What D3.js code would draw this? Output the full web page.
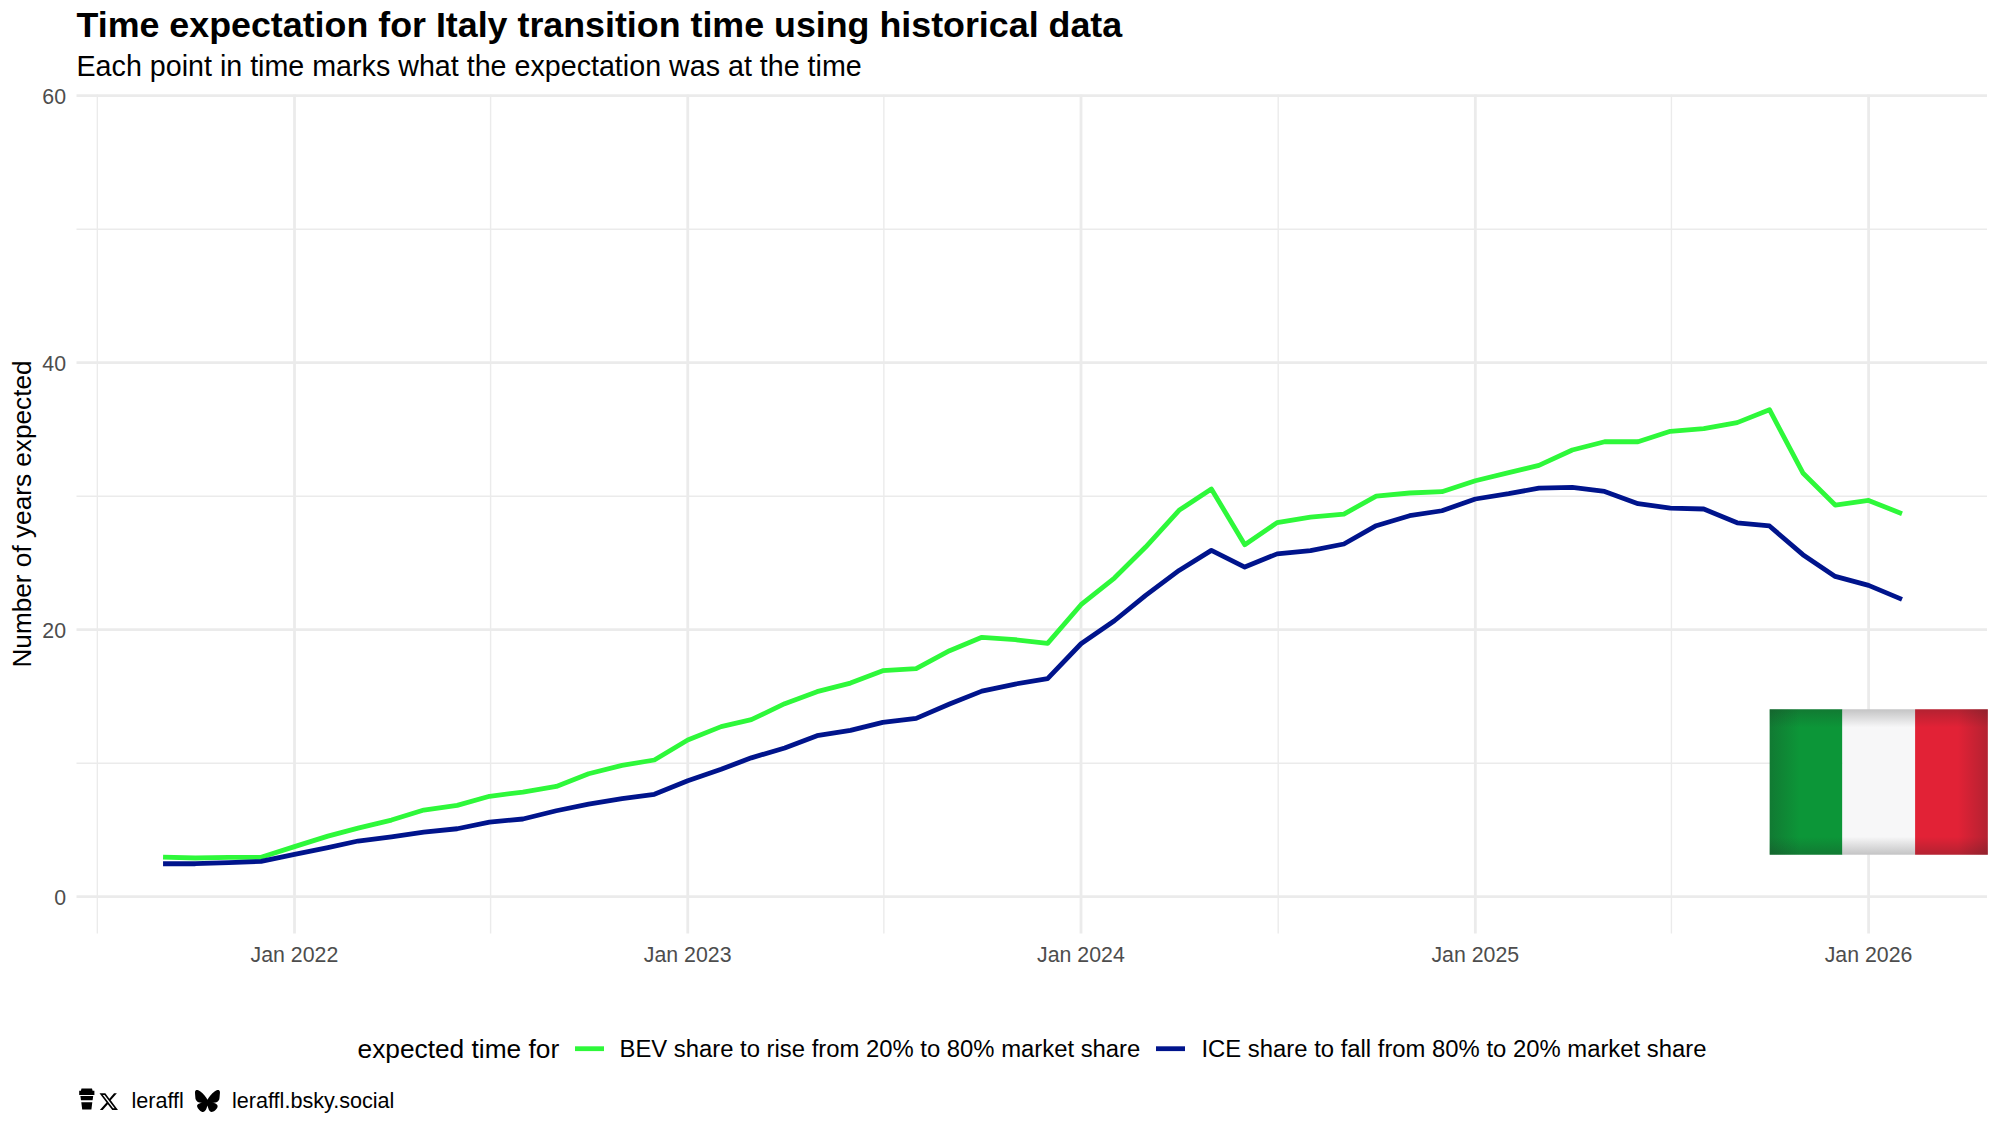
<!DOCTYPE html>
<html><head><meta charset="utf-8">
<script src="https://cdn.jsdelivr.net/npm/d3@7"></script>
<style>html,body{margin:0;padding:0;background:#fff}svg{display:block}text{font-family:"Liberation Sans",Arial,sans-serif}</style>
</head><body><svg id="c" width="2000" height="1125"></svg>
<script>
const months=["2021-09","2021-10","2021-11","2021-12",
"2022-01","2022-02","2022-03","2022-04","2022-05","2022-06","2022-07","2022-08","2022-09","2022-10","2022-11","2022-12",
"2023-01","2023-02","2023-03","2023-04","2023-05","2023-06","2023-07","2023-08","2023-09","2023-10","2023-11","2023-12",
"2024-01","2024-02","2024-03","2024-04","2024-05","2024-06","2024-07","2024-08","2024-09","2024-10","2024-11","2024-12",
"2025-01","2025-02","2025-03","2025-04","2025-05","2025-06","2025-07","2025-08","2025-09","2025-10","2025-11","2025-12",
"2026-01","2026-02"];
const bevValues=[2.97,2.90,2.95,2.95,
3.75,4.54,5.14,5.74,6.49,6.84,7.52,7.84,8.26,9.21,9.84,10.24,
11.74,12.74,13.26,14.46,15.36,16.00,16.93,17.08,18.43,19.43,19.25,18.98,
21.87,23.87,26.19,28.94,30.54,26.37,28.02,28.44,28.66,30.01,30.24,30.34,
31.16,31.76,32.31,33.46,34.08,34.08,34.86,35.06,35.51,36.48,31.74,29.34,
29.68,28.69];
const iceValues=[2.47,2.47,2.55,2.65,
3.17,3.67,4.17,4.49,4.84,5.09,5.59,5.82,6.44,6.94,7.34,7.67,
8.68,9.55,10.40,11.14,12.06,12.46,13.06,13.36,14.43,15.40,15.93,16.33,
18.95,20.67,22.57,24.44,25.94,24.69,25.68,25.92,26.42,27.79,28.54,28.91,
29.79,30.19,30.61,30.66,30.36,29.44,29.11,29.04,28.01,27.77,25.62,23.99,
23.32,22.27];
const yMajor=[0,20,40,60], yMinor=[10,30,50];
const xMajorLabels=["2022-01-01","2023-01-01","2024-01-01","2025-01-01","2026-01-01"];
const xMinorLabels=["2021-07-02","2022-07-02","2023-07-02","2024-07-02","2025-07-02"];
const titleText="Time expectation for Italy transition time using historical data";
const subtitleText="Each point in time marks what the expectation was at the time";
const yTitleText="Number of years expected";
const legendTitle="expected time for";
const seriesNames=["BEV share to rise from 20% to 80% market share","ICE share to fall from 80% to 20% market share"];
const seriesColors=["#2EF83A","#00148C"];
const flagColors=["#0C9638","#F7F7F8","#E22236"];

const parse=d3.utcParse("%Y-%m");
const parseDay=d3.utcParse("%Y-%m-%d");
const L=76.5,R=1987,T=94.5,B=933.5;
const x=d3.scaleUtc().domain([parseDay("2022-01-01"),parseDay("2026-01-01")]).range([294.5,1868.6]);
const y=d3.scaleLinear().domain([0,60]).range([896.7,95.7]);
const svg=d3.select("#c");
const GRID="#EBEBEB";

// grid
const g=svg.append("g");
g.selectAll(".ymin").data(yMinor).join("line").attr("x1",L).attr("x2",R).attr("y1",y).attr("y2",y).attr("stroke",GRID).attr("stroke-width",1.4);
g.selectAll(".xmin").data(xMinorLabels).join("line").attr("x1",d=>x(parseDay(d))).attr("x2",d=>x(parseDay(d))).attr("y1",T).attr("y2",B).attr("stroke",GRID).attr("stroke-width",1.4);
g.selectAll(".ymaj").data(yMajor).join("line").attr("x1",L).attr("x2",R).attr("y1",y).attr("y2",y).attr("stroke",GRID).attr("stroke-width",2.8);
g.selectAll(".xmaj").data(xMajorLabels).join("line").attr("x1",d=>x(parseDay(d))).attr("x2",d=>x(parseDay(d))).attr("y1",T).attr("y2",B).attr("stroke",GRID).attr("stroke-width",2.8);

// axes
const ax=svg.append("g").attr("transform",`translate(0,${B})`).call(d3.axisBottom(x).tickValues(xMajorLabels.map(parseDay)).tickFormat(d3.utcFormat("%b %Y")).tickSize(0).tickPadding(0));
ax.select(".domain").remove();
ax.selectAll("text").attr("x",-0.6).attr("y",28).attr("dy",0).attr("font-size",21.3).attr("fill","#4D4D4D").style("font-family",'"Liberation Sans",Arial,sans-serif');
const ay=svg.append("g").attr("transform",`translate(66,0)`).call(d3.axisLeft(y).tickValues(yMajor).tickSize(0).tickPadding(0));
ay.select(".domain").remove();
ay.selectAll("text").attr("x",0).attr("dy","0.36em").attr("font-size",21.3).attr("fill","#4D4D4D").style("font-family",'"Liberation Sans",Arial,sans-serif');

// flag
const defs=svg.append("defs");
function grad(id,x2,y2){const lg=defs.append("linearGradient").attr("id",id).attr("x1",0).attr("y1",0).attr("x2",x2).attr("y2",y2);
 lg.append("stop").attr("offset",0).attr("stop-color","#222").attr("stop-opacity",0.24);
 lg.append("stop").attr("offset",1).attr("stop-color","#222").attr("stop-opacity",0);}
grad("gt",0,1);grad("gl",1,0);
const fx=1769.7,fw=72.7,fy=709.3,fh=145.4;
const f=svg.append("g");
f.selectAll("rect.s").data(flagColors).join("rect").attr("class","s").attr("x",(d,i)=>fx+i*fw).attr("y",fy).attr("width",fw).attr("height",fh).attr("fill",d=>d);
f.append("rect").attr("x",fx).attr("y",fy).attr("width",fw*3).attr("height",18).attr("fill","url(#gt)");
f.append("rect").attr("x",fx).attr("y",fy+fh-18).attr("width",fw*3).attr("height",18).attr("fill","url(#gt)").attr("transform",`rotate(180 ${fx+fw*1.5} ${fy+fh-9})`);
f.append("rect").attr("x",fx).attr("y",fy).attr("width",30).attr("height",fh).attr("fill","url(#gl)");
f.append("rect").attr("x",fx+fw*3-30).attr("y",fy).attr("width",30).attr("height",fh).attr("fill","url(#gl)").attr("transform",`rotate(180 ${fx+fw*3-15} ${fy+fh/2})`);

// lines
const line=d3.line().x((d,i)=>x(parse(months[i]))).y(d=>y(d)).curve(d3.curveLinear);
[bevValues,iceValues].forEach((v,i)=>{
 svg.append("path").attr("d",line(v)).attr("fill","none").attr("stroke",seriesColors[i]).attr("stroke-width",4.8).attr("stroke-linejoin","round").attr("stroke-linecap","butt");
});

// titles
svg.append("text").attr("x",76.5).attr("y",37).attr("font-size",35.8).attr("font-weight",700).attr("fill","#000").text(titleText);
svg.append("text").attr("x",76.5).attr("y",76).attr("font-size",28.67).attr("fill","#000").text(subtitleText);
svg.append("text").attr("transform","translate(30.5,514) rotate(-90)").attr("text-anchor","middle").attr("font-size",26.2).attr("fill","#000").text(yTitleText);

// legend
svg.append("text").attr("x",357.5).attr("y",1058).attr("font-size",26.3).attr("fill","#000").text(legendTitle);
const keyX=[575,1156],labX=[619.5,1201.5];
seriesNames.forEach((n,i)=>{
 svg.append("line").attr("x1",keyX[i]).attr("x2",keyX[i]+29).attr("y1",1048.7).attr("y2",1048.7).attr("stroke",seriesColors[i]).attr("stroke-width",4.8);
 svg.append("text").attr("x",labX[i]).attr("y",1057).attr("font-size",23.85).attr("fill","#000").text(n);
});

// caption
const cap=svg.append("g");
const cup=cap.append("g").attr("transform","translate(79,1088)");
cup.append("path").attr("d","M2.5 0.4H13L13.6 2.8H15.4V7H0.2V2.8H1.9Z").attr("fill","#000");
cup.append("path").attr("d","M1.4 8H14.2L13.6 12.2H2Z M2.3 14.2H13.3L12.4 21.6H3.2Z").attr("fill","#000");
cap.append("path").attr("transform","translate(99.5,1092.4) scale(0.77)").attr("d","M18.901 1.153h3.68l-8.04 9.19L24 22.846h-7.406l-5.8-7.584-6.638 7.584H.474l8.6-9.83L0 1.154h7.594l5.243 6.932ZM17.61 20.644h2.039L6.486 3.24H4.298Z").attr("fill","#000");
cap.append("text").attr("x",131.5).attr("y",1108).attr("font-size",21.6).attr("fill","#000").text("leraffl");
cap.append("path").attr("transform","translate(195,1088.5) scale(1.04)").attr("d","M12 10.8c-1.087-2.114-4.046-6.053-6.798-7.995C2.566.944 1.561 1.266.902 1.565.139 1.908 0 3.08 0 3.768c0 .69.378 5.65.624 6.479.815 2.736 3.713 3.66 6.383 3.364.136-.02.275-.039.415-.056-.138.022-.276.04-.415.056-3.912.58-7.387 2.005-2.83 7.078 5.013 5.19 6.87-1.113 7.823-4.308.953 3.195 2.05 9.271 7.733 4.308 4.267-4.308 1.172-6.498-2.74-7.078a8.741 8.741 0 0 1-.415-.056c.14.017.279.036.415.056 2.67.297 5.568-.628 6.383-3.364.246-.828.624-5.79.624-6.479 0-.688-.139-1.86-.902-2.203-.659-.299-1.664-.621-4.3 1.24C16.046 4.748 13.087 8.687 12 10.8Z").attr("fill","#000");
cap.append("text").attr("x",232).attr("y",1108).attr("font-size",21.6).attr("fill","#000").text("leraffl.bsky.social");
</script></body></html>
